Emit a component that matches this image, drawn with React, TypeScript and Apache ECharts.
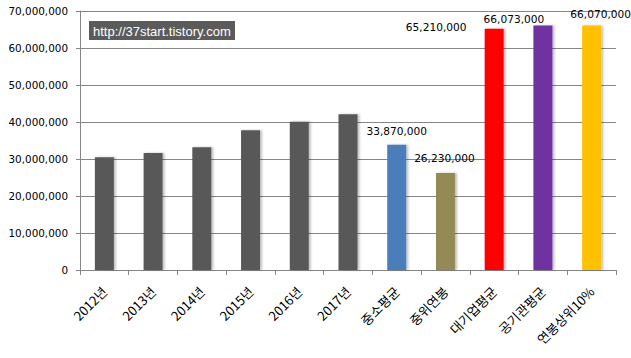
import React, { useEffect, useRef } from "react";
import * as echarts from "echarts";

const categories = ["2012년", "2013년", "2014년", "2015년", "2016년", "2017년", "중소평균", "중위연봉", "대기업평균", "공기관평균", "연봉상위10%"];
const values = [30500000, 31600000, 33200000, 37800000, 40100000, 42100000, 33870000, 26230000, 65210000, 66073000, 66070000];
const barColors = ["#595959", "#595959", "#595959", "#595959", "#595959", "#595959", "#4a7ebb", "#948a54", "#ff0000", "#7030a0", "#ffc000"];
const showLabel = [false, false, false, false, false, false, true, true, true, true, true];
const labelOffsets: [number, number][] = [[0, 0], [0, 0], [0, 0], [0, 0], [0, 0], [0, 0], [0, -2], [-1, -3], [-58, 10], [-29, 5], [9, 0]];

export default function App() {
  const ref = useRef<HTMLDivElement>(null);
  useEffect(() => {
    if (!ref.current) return;
    const chart = echarts.init(ref.current, null, { renderer: "svg" });
    const fmt = (v: number) => v.toLocaleString("en-US");
    chart.setOption({
      animation: false,
      grid: { left: 80, right: 15, top: 11, bottom: 88, containLabel: false },
      graphic: [
        { type: "rect", shape: { x: 89, y: 21, width: 146, height: 19 }, style: { fill: "#5b5b5b" } },
        {
          type: "text", x: 93, y: 31,
          style: { text: "http://37start.tistory.com", fill: "#ffffff", font: "13px 'Liberation Sans', Arial, sans-serif", verticalAlign: "middle" },
        },
      ],
      xAxis: {
        type: "category",
        data: categories,
        axisLine: { lineStyle: { color: "#868686" } },
        axisTick: { show: true, length: 5, alignWithLabel: false, lineStyle: { color: "#868686" } },
        axisLabel: { rotate: 45, interval: 0, margin: 19, color: "#000", fontSize: 13, fontFamily: "'Noto Sans CJK KR', sans-serif" },
      },
      yAxis: {
        type: "value",
        min: 0, max: 70000000, interval: 10000000,
        axisLine: { show: true, lineStyle: { color: "#868686" } },
        axisTick: { show: true, length: 4, lineStyle: { color: "#868686" } },
        splitLine: { lineStyle: { color: "#868686" } },
        axisLabel: { margin: 12, color: "#000", fontSize: 10.4, fontFamily: "'DejaVu Sans', sans-serif", formatter: (v: number) => fmt(v) },
      },
      series: [
        {
          type: "bar",
          barWidth: 19,
          data: values.map((v, i) => ({
            value: v,
            itemStyle: { color: barColors[i], shadowColor: "rgba(0,0,0,0.25)", shadowBlur: 2, shadowOffsetX: 2, shadowOffsetY: 0 },
            label: {
              show: showLabel[i], position: "top", distance: 6, offset: labelOffsets[i],
              color: "#000", fontSize: 10.6, fontFamily: "'DejaVu Sans', sans-serif",
              formatter: () => fmt(v),
            },
          })),
        },
      ],
    });
    return () => chart.dispose();
  }, []);
  return <div ref={ref} style={{ position: "absolute", left: 0, top: 0, width: 631, height: 358 }} />;
}
